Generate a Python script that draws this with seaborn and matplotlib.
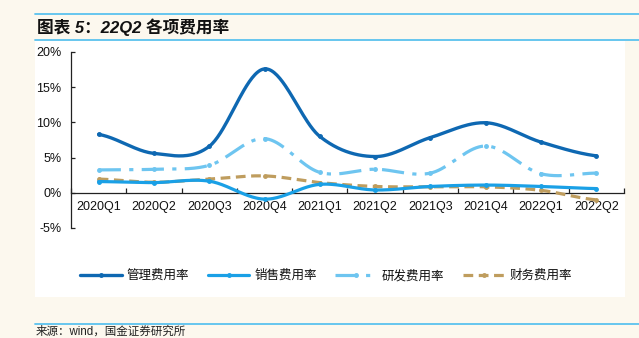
import numpy as np
import pandas as pd
import matplotlib
matplotlib.use("Agg")
import matplotlib.pyplot as plt
import seaborn as sns
from matplotlib.patches import Rectangle
from matplotlib.lines import Line2D

# ---------------- data ----------------
quarters = ["2020Q1", "2020Q2", "2020Q3", "2020Q4", "2021Q1",
            "2021Q2", "2021Q3", "2021Q4", "2022Q1", "2022Q2"]
mgmt_rate = [8.3, 5.6, 6.6, 17.6, 8.0, 5.15, 7.85, 9.95, 7.2, 5.25]      # 管理费用率
sales_rate = [1.6, 1.45, 1.65, -0.9, 1.2, 0.4, 0.9, 1.1, 0.9, 0.6]      # 销售费用率
rd_rate = [3.25, 3.35, 3.9, 7.7, 2.9, 3.35, 2.8, 6.65, 2.7, 2.8]        # 研发费用率
fin_rate = [1.95, 1.5, 1.95, 2.4, 1.45, 0.9, 0.85, 0.85, 0.35, -1.0]    # 财务费用率
series_names = ["管理费用率", "销售费用率", "研发费用率", "财务费用率"]
yticks = [-5, 0, 5, 10, 15, 20]

# ---------------- style ----------------
sns.set_theme(style="white")
plt.rcParams["font.family"] = ["Liberation Sans", "Noto Sans CJK SC"]
plt.rcParams["axes.unicode_minus"] = False
plt.rcParams["lines.scale_dashes"] = False

BG = "#FCF8EE"
RULE = "#5BC2EE"
colors = ["#0E68B2", "#1AA0E6", "#6EC5F0", "#BF9D5E"]
styles = ["-", "-", (0, (16, 6, 3, 6)), (0, (7, 4))]
lws = [2.4, 2.3, 2.3, 2.3]


def smooth(yvals, n=40):
    """Catmull-Rom style smoothing (like a spreadsheet 'smoothed line')."""
    y = np.asarray(yvals, dtype=float)
    k = len(y)
    xs, ys = [], []
    for i in range(k - 1):
        p0 = y[i - 1] if i > 0 else y[i]
        p1, p2 = y[i], y[i + 1]
        p3 = y[i + 2] if i + 2 < k else y[i + 1]
        m1 = (p2 - p0) / 2.0
        m2 = (p3 - p1) / 2.0
        t = np.linspace(0, 1, n, endpoint=(i == k - 2))
        h00 = 2 * t**3 - 3 * t**2 + 1
        h10 = t**3 - 2 * t**2 + t
        h01 = -2 * t**3 + 3 * t**2
        h11 = t**3 - t**2
        xs.append(i + t)
        ys.append(h00 * p1 + h10 * m1 + h01 * p2 + h11 * m2)
    return np.concatenate(xs), np.concatenate(ys)


W, H = 639, 338
fig = plt.figure(figsize=(W / 100, H / 100), dpi=100, facecolor=BG)

# white panel
fig.add_artist(Rectangle((35 / W, 1 - 297 / H), 590 / W, (297 - 41) / H,
                         transform=fig.transFigure, facecolor="white",
                         edgecolor="none", zorder=0))
# rules
for yy in (14, 40, 324):
    fig.add_artist(Line2D([35 / W, 1.0], [1 - yy / H, 1 - yy / H],
                          transform=fig.transFigure, color=RULE, lw=1.3))

fig.text(37 / W, 1 - 27 / H, "图表 5：22Q2 各项费用率", fontsize=12,
         fontweight="bold", style="italic", va="center", ha="left",
         color="#111111")
fig.text(36 / W, 1 - 326 / H, "来源：wind，国金证券研究所", fontsize=8.3,
         va="top", ha="left", color="#222222")

ax = fig.add_axes([71 / W, 1 - 228 / H, 553 / W, 176 / H])
ax.set_facecolor("none")

all_series = [mgmt_rate, sales_rate, rd_rate, fin_rate]
frames = []
for name, vals in zip(series_names, all_series):
    sx, sy = smooth(vals)
    frames.append(pd.DataFrame({"x": sx, "y": sy, "series": name}))
df = pd.concat(frames, ignore_index=True)

order_draw = [3, 2, 1, 0]
for idx in order_draw:
    name = series_names[idx]
    sub = df[df["series"] == name]
    sns.lineplot(data=sub, x="x", y="y", ax=ax, color=colors[idx],
                 linestyle=styles[idx], lw=lws[idx], sort=False,
                 estimator=None, legend=False, zorder=3 + (3 - idx))
    ax.plot(np.arange(len(quarters)), all_series[idx], "o",
            color=colors[idx], ms=2.5, zorder=3 + (3 - idx))

ax.set_xlim(-0.5, len(quarters) - 0.5)
ax.set_ylim(-5, 20)
ax.set_xlabel("")
ax.set_ylabel("")

for s in ("top", "right"):
    ax.spines[s].set_visible(False)
ax.spines["bottom"].set_position(("data", 0))
ax.spines["bottom"].set_color("#222222")
ax.spines["left"].set_color("#222222")
ax.spines["bottom"].set_linewidth(0.9)
ax.spines["left"].set_linewidth(0.9)

ax.set_yticks(yticks)
ax.set_yticklabels([f"{v}%" for v in yticks])
ax.tick_params(axis="y", direction="in", length=3, width=0.9,
               color="#222222", pad=7, labelsize=9, labelcolor="#111111",
               left=True)

ax.set_xticks(np.arange(-0.5, len(quarters), 1.0))
ax.set_xticklabels([])
ax.set_xticks(np.arange(len(quarters)), minor=True)
ax.set_xticklabels(quarters, minor=True)
ax.tick_params(axis="x", which="major", direction="in", length=3.5,
               width=0.9, color="#222222", bottom=True)
ax.tick_params(axis="x", which="minor", length=0, pad=6, labelsize=9,
               labelcolor="#111111")
ax.grid(False)

handles = [Line2D([0, 0.5, 1], [0, 0, 0], color=colors[i], lw=lws[i],
                  linestyle=styles[i], marker="o", ms=2.5, markevery=[1])
           for i in range(4)]
fig.legend(handles, series_names, loc="center",
           bbox_to_anchor=(326 / W, 1 - 276 / H), ncol=4, frameon=False,
           fontsize=9, handlelength=3.3, handletextpad=0.4,
           columnspacing=1.5, labelcolor="#111111")

fig.savefig("out.png", dpi=100, facecolor=BG)
